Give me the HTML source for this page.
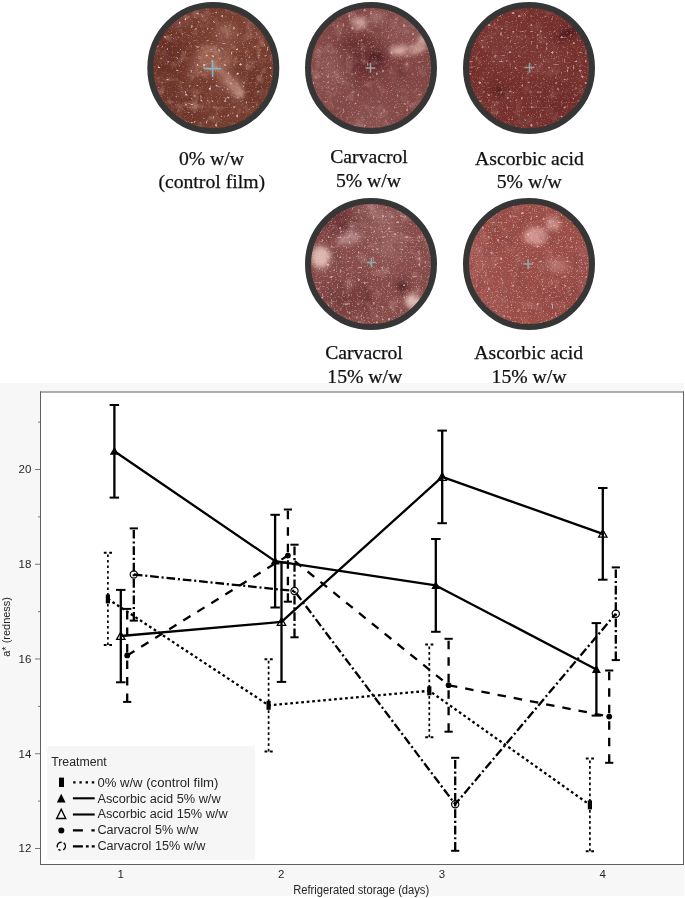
<!DOCTYPE html>
<html><head><meta charset="utf-8"><style>
html,body{margin:0;padding:0;background:#fff;}
body{width:685px;height:898px;overflow:hidden;position:relative;}
svg{position:absolute;left:0;top:0;display:block;will-change:transform;}
.serif{font-family:"Liberation Serif",serif;}
.sans{font-family:"Liberation Sans",sans-serif;}
</style></head><body>
<svg width="685" height="898" viewBox="0 0 685 898">
<rect x="0" y="0" width="685" height="898" fill="#fff"/>
<defs>
<clipPath id="c1"><circle cx="213.3" cy="68" r="62"/></clipPath>
<clipPath id="c2"><circle cx="371" cy="68" r="62"/></clipPath>
<clipPath id="c3"><circle cx="529" cy="68" r="62"/></clipPath>
<clipPath id="c4"><circle cx="371" cy="264" r="62"/></clipPath>
<clipPath id="c5"><circle cx="529" cy="264" r="62"/></clipPath>
<filter id="b4" x="-50%" y="-50%" width="200%" height="200%"><feGaussianBlur stdDeviation="3.5"/></filter>
<filter id="b15" x="-50%" y="-50%" width="200%" height="200%"><feGaussianBlur stdDeviation="2.6"/></filter>
<filter id="b12" x="-50%" y="-50%" width="200%" height="200%"><feGaussianBlur stdDeviation="10"/></filter>
<filter id="mottle" x="0" y="0" width="100%" height="100%">
 <feTurbulence type="fractalNoise" baseFrequency="0.07" numOctaves="3" seed="3"/>
 <feColorMatrix type="matrix" values="0 0 0 0 0.25  0 0 0 0 0.08  0 0 0 0 0.07  3 0 0 0 -1.5"/>
</filter>
<filter id="mottleL" x="0" y="0" width="100%" height="100%">
 <feTurbulence type="fractalNoise" baseFrequency="0.09" numOctaves="3" seed="31"/>
 <feColorMatrix type="matrix" values="0 0 0 0 0.76  0 0 0 0 0.56  0 0 0 0 0.5  3 0 0 0 -1.6"/>
</filter>
<filter id="grain" x="0" y="0" width="100%" height="100%">
 <feTurbulence type="fractalNoise" baseFrequency="0.8" numOctaves="1" seed="5"/>
 <feColorMatrix type="matrix" values="0 0 0 0 0.85  0 0 0 0 0.68  0 0 0 0 0.7  5 0 0 0 -2.9"/>
 <feGaussianBlur stdDeviation="0.35"/>
</filter>
<filter id="sp1" x="0" y="0" width="100%" height="100%">
 <feTurbulence type="fractalNoise" baseFrequency="0.33" numOctaves="1" seed="7"/>
 <feColorMatrix type="matrix" values="0 0 0 0 0.92  0 0 0 0 0.84  0 0 0 0 0.86  9 0 0 0 -5.9"/>
 <feGaussianBlur stdDeviation="0.5"/>
</filter>
<filter id="sp2" x="0" y="0" width="100%" height="100%">
 <feTurbulence type="fractalNoise" baseFrequency="0.33" numOctaves="1" seed="9"/>
 <feColorMatrix type="matrix" values="0 0 0 0 0.92  0 0 0 0 0.84  0 0 0 0 0.86  9 0 0 0 -5.9"/>
 <feGaussianBlur stdDeviation="0.5"/>
</filter>
<filter id="sp3" x="0" y="0" width="100%" height="100%">
 <feTurbulence type="fractalNoise" baseFrequency="0.33" numOctaves="1" seed="13"/>
 <feColorMatrix type="matrix" values="0 0 0 0 0.92  0 0 0 0 0.84  0 0 0 0 0.86  9 0 0 0 -5.9"/>
 <feGaussianBlur stdDeviation="0.5"/>
</filter>
<filter id="sp4" x="0" y="0" width="100%" height="100%">
 <feTurbulence type="fractalNoise" baseFrequency="0.33" numOctaves="1" seed="17"/>
 <feColorMatrix type="matrix" values="0 0 0 0 0.92  0 0 0 0 0.84  0 0 0 0 0.86  9 0 0 0 -5.9"/>
 <feGaussianBlur stdDeviation="0.5"/>
</filter>
<filter id="sp5" x="0" y="0" width="100%" height="100%">
 <feTurbulence type="fractalNoise" baseFrequency="0.33" numOctaves="1" seed="19"/>
 <feColorMatrix type="matrix" values="0 0 0 0 0.92  0 0 0 0 0.84  0 0 0 0 0.86  9 0 0 0 -5.9"/>
 <feGaussianBlur stdDeviation="0.5"/>
</filter>
<filter id="gain1" x="0" y="0" width="100%" height="100%" color-interpolation-filters="sRGB"><feColorMatrix type="saturate" values="0.9"/><feColorMatrix type="matrix" values="1.0 0 0 0 0  0 0.92 0 0 0  0 0 0.9 0 0  0 0 0 1 0"/></filter>
<filter id="gain2" x="0" y="0" width="100%" height="100%" color-interpolation-filters="sRGB"><feColorMatrix type="saturate" values="0.8"/><feColorMatrix type="matrix" values="1.0 0 0 0 0  0 0.9 0 0 0  0 0 0.9 0 0  0 0 0 1 0"/></filter>
<filter id="gain3" x="0" y="0" width="100%" height="100%" color-interpolation-filters="sRGB"><feColorMatrix type="saturate" values="0.92"/><feColorMatrix type="matrix" values="0.92 0 0 0 0  0 0.8 0 0 0  0 0 0.8 0 0  0 0 0 1 0"/></filter>
<filter id="gain4" x="0" y="0" width="100%" height="100%" color-interpolation-filters="sRGB"><feColorMatrix type="saturate" values="0.8"/><feColorMatrix type="matrix" values="1.0 0 0 0 0  0 0.9 0 0 0  0 0 0.92 0 0  0 0 0 1 0"/></filter>
<filter id="gain5" x="0" y="0" width="100%" height="100%" color-interpolation-filters="sRGB"><feColorMatrix type="saturate" values="0.85"/><feColorMatrix type="matrix" values="1.0 0 0 0 0  0 0.84 0 0 0  0 0 0.88 0 0  0 0 0 1 0"/></filter>
</defs>
<g clip-path="url(#c1)">
<g filter="url(#gain1)">
<rect x="147.3" y="2.0" width="132" height="132" fill="#7b4131"/>
<g filter="url(#b12)"><ellipse cx="168" cy="55" rx="18" ry="30" fill="#6c3326"/><ellipse cx="178" cy="108" rx="26" ry="18" fill="#6e3528"/><ellipse cx="258" cy="85" rx="14" ry="22" fill="#6e3729"/><ellipse cx="228" cy="36" rx="16" ry="12" fill="#8a5040"/></g>
<g filter="url(#b4)"><ellipse cx="213" cy="60" rx="19" ry="15" fill="#a06a57" transform="rotate(0 213 60)"/><ellipse cx="231" cy="84" rx="14" ry="7" fill="#b08172" transform="rotate(40 231 84)"/><ellipse cx="226" cy="32" rx="10" ry="8" fill="#94604f" transform="rotate(0 226 32)"/><ellipse cx="195" cy="70" rx="8" ry="6" fill="#8c5646" transform="rotate(0 195 70)"/></g>
<g filter="url(#b15)"><ellipse cx="236" cy="90" rx="8" ry="4" fill="#b08476" transform="rotate(40 236 90)"/></g>
<rect x="147.3" y="2.0" width="132" height="132" filter="url(#mottle)" opacity="0.7"/>
<rect x="147.3" y="2.0" width="132" height="132" filter="url(#mottleL)" opacity="0.4"/>
</g>
<rect x="147.3" y="2.0" width="132" height="132" filter="url(#grain)" opacity="0.3"/>
<rect x="147.3" y="2.0" width="132" height="132" filter="url(#sp1)" opacity="0.8"/>
<g stroke="#84b4c8" stroke-width="1.6"><line x1="204.1" y1="68.6" x2="221.1" y2="68.6"/><line x1="212.6" y1="60.1" x2="212.6" y2="77.1"/></g>
</g>
<g clip-path="url(#c2)">
<g filter="url(#gain2)">
<rect x="305.0" y="2.0" width="132" height="132" fill="#8c4c48"/>
<g filter="url(#b12)"><ellipse cx="362" cy="60" rx="22" ry="20" fill="#6e2c2e"/><ellipse cx="330" cy="72" rx="14" ry="22" fill="#9c6660"/><ellipse cx="405" cy="30" rx="16" ry="12" fill="#a06a68"/><ellipse cx="372" cy="118" rx="22" ry="10" fill="#9a625e"/></g>
<g filter="url(#b4)"><ellipse cx="376" cy="57" rx="7" ry="10" fill="#5a2026" transform="rotate(0 376 57)"/><ellipse cx="377" cy="18" rx="9" ry="5" fill="#b08480" transform="rotate(0 377 18)"/><ellipse cx="355" cy="43" rx="18" ry="2.5" fill="#6a2a2c" transform="rotate(-5 355 43)"/><ellipse cx="401" cy="72" rx="3" ry="7" fill="#6a2a2e" transform="rotate(-20 401 72)"/></g>
<g filter="url(#b15)"><ellipse cx="359" cy="23" rx="8" ry="6" fill="#d0aca8" transform="rotate(0 359 23)"/><ellipse cx="407" cy="50" rx="17" ry="5" fill="#dab8aa" transform="rotate(-5 407 50)"/><ellipse cx="422" cy="42" rx="4" ry="8" fill="#dabcb0" transform="rotate(0 422 42)"/></g>
<rect x="305.0" y="2.0" width="132" height="132" filter="url(#mottle)" opacity="0.5"/>
<rect x="305.0" y="2.0" width="132" height="132" filter="url(#mottleL)" opacity="0.3"/>
</g>
<rect x="305.0" y="2.0" width="132" height="132" filter="url(#grain)" opacity="0.35"/>
<rect x="305.0" y="2.0" width="132" height="132" filter="url(#sp2)" opacity="0.45"/>
<g stroke="#98a4a4" stroke-width="1.5"><line x1="365.6" y1="67.9" x2="375.4" y2="67.9"/><line x1="370.5" y1="63.0" x2="370.5" y2="72.8"/></g>
</g>
<g clip-path="url(#c3)">
<g filter="url(#gain3)">
<rect x="463.0" y="2.0" width="132" height="132" fill="#853a35"/>
<g filter="url(#b12)"><ellipse cx="500" cy="40" rx="26" ry="24" fill="#8a423c"/><ellipse cx="560" cy="100" rx="24" ry="20" fill="#7e3632"/><ellipse cx="548" cy="60" rx="14" ry="12" fill="#94504a"/></g>
<g filter="url(#b4)"><ellipse cx="567" cy="33" rx="12" ry="3.5" fill="#4c181c" transform="rotate(-30 567 33)"/><ellipse cx="501" cy="91" rx="8" ry="3" fill="#501a1e" transform="rotate(25 501 91)"/></g>
<rect x="463.0" y="2.0" width="132" height="132" filter="url(#mottle)" opacity="0.45"/>
<rect x="463.0" y="2.0" width="132" height="132" filter="url(#mottleL)" opacity="0.2"/>
</g>
<rect x="463.0" y="2.0" width="132" height="132" filter="url(#grain)" opacity="0.35"/>
<rect x="463.0" y="2.0" width="132" height="132" filter="url(#sp3)" opacity="0.55"/>
<g stroke="#98a4a4" stroke-width="1.5"><line x1="524.6" y1="67.6" x2="534.4" y2="67.6"/><line x1="529.5" y1="62.7" x2="529.5" y2="72.5"/></g>
</g>
<g clip-path="url(#c4)">
<g filter="url(#gain4)">
<rect x="305.0" y="198.0" width="132" height="132" fill="#92524c"/>
<g filter="url(#b12)"><ellipse cx="342" cy="222" rx="16" ry="11" fill="#62242a"/><ellipse cx="344" cy="298" rx="22" ry="16" fill="#7a3a38"/><ellipse cx="378" cy="214" rx="16" ry="9" fill="#b48a86"/><ellipse cx="388" cy="246" rx="10" ry="9" fill="#bc9896"/></g>
<g filter="url(#b4)"><ellipse cx="350" cy="238" rx="14" ry="5" fill="#c8a8a4" transform="rotate(-15 350 238)"/><ellipse cx="402" cy="286" rx="5" ry="6" fill="#521a20" transform="rotate(0 402 286)"/><ellipse cx="366" cy="298" rx="3" ry="16" fill="#642628" transform="rotate(-10 366 298)"/></g>
<g filter="url(#b15)"><ellipse cx="321" cy="257" rx="10" ry="11" fill="#e0c8b8" transform="rotate(0 321 257)"/><ellipse cx="413" cy="301" rx="8" ry="7" fill="#e2cebe" transform="rotate(0 413 301)"/></g>
<rect x="305.0" y="198.0" width="132" height="132" filter="url(#mottle)" opacity="0.6"/>
<rect x="305.0" y="198.0" width="132" height="132" filter="url(#mottleL)" opacity="0.3"/>
</g>
<rect x="305.0" y="198.0" width="132" height="132" filter="url(#grain)" opacity="0.5"/>
<rect x="305.0" y="198.0" width="132" height="132" filter="url(#sp4)" opacity="0.55"/>
<g stroke="#8cacaa" stroke-width="1.5"><line x1="366.6" y1="262.6" x2="376.2" y2="262.6"/><line x1="371.4" y1="257.8" x2="371.4" y2="267.4"/></g>
</g>
<g clip-path="url(#c5)">
<g filter="url(#gain5)">
<rect x="463.0" y="198.0" width="132" height="132" fill="#a45a4c"/>
<g filter="url(#b12)"><ellipse cx="478" cy="258" rx="12" ry="18" fill="#b07064"/><ellipse cx="490" cy="305" rx="18" ry="10" fill="#ac6a5e"/><ellipse cx="560" cy="300" rx="18" ry="14" fill="#9a5046"/></g>
<g filter="url(#b4)"><ellipse cx="556" cy="266" rx="12" ry="6" fill="#c08a7c" transform="rotate(0 556 266)"/><ellipse cx="500" cy="238" rx="14" ry="10" fill="#9e544a" transform="rotate(0 500 238)"/></g>
<g filter="url(#b15)"><ellipse cx="536" cy="236" rx="12" ry="9" fill="#d6ae9c" transform="rotate(0 536 236)"/><ellipse cx="553" cy="224" rx="7" ry="7" fill="#d2aa98" transform="rotate(0 553 224)"/></g>
<rect x="463.0" y="198.0" width="132" height="132" filter="url(#mottle)" opacity="0.45"/>
<rect x="463.0" y="198.0" width="132" height="132" filter="url(#mottleL)" opacity="0.25"/>
</g>
<rect x="463.0" y="198.0" width="132" height="132" filter="url(#grain)" opacity="0.55"/>
<rect x="463.0" y="198.0" width="132" height="132" filter="url(#sp5)" opacity="0.5"/>
<g stroke="#98aaa6" stroke-width="1.5"><line x1="523.2" y1="264.1" x2="533.0" y2="264.1"/><line x1="528.1" y1="259.2" x2="528.1" y2="269.0"/></g>
</g>
<g fill="none" stroke="#363636" stroke-width="6"><circle cx="213.3" cy="68" r="63"/><circle cx="371" cy="68" r="63"/><circle cx="529" cy="68" r="63"/><circle cx="371" cy="264" r="63"/><circle cx="529" cy="264" r="63"/></g>
<g class="serif" font-size="19.7" fill="#111" stroke="#111" stroke-width="0.25" text-anchor="middle"><text x="211.5" y="165.1">0% w/w</text><text x="211.7" y="188.2">(control film)</text><text x="369" y="162.7">Carvacrol</text><text x="368.5" y="186.8">5% w/w</text><text x="529.5" y="165.1">Ascorbic acid</text><text x="529.3" y="188.2">5% w/w</text><text x="364" y="358.8">Carvacrol</text><text x="364.8" y="383.1">15% w/w</text><text x="528.7" y="359.1">Ascorbic acid</text><text x="529" y="383.0">15% w/w</text></g>
<rect x="0" y="383" width="684" height="513" fill="#f7f7f7"/>
<rect x="40" y="392" width="644" height="473" fill="#fff"/>
<g stroke="#606060" stroke-width="1"><line x1="40" y1="392" x2="684" y2="392"/><line x1="40.5" y1="391.5" x2="40.5" y2="865"/><line x1="683.5" y1="391.5" x2="683.5" y2="865"/><line x1="40" y1="864.5" x2="684" y2="864.5"/></g>
<rect x="47.3" y="746" width="207.5" height="113.7" fill="#f6f6f6"/>
<g stroke="#777" stroke-width="1"><line x1="35" y1="469.5" x2="40" y2="469.5"/><line x1="35" y1="564.25" x2="40" y2="564.25"/><line x1="35" y1="659" x2="40" y2="659"/><line x1="35" y1="753.75" x2="40" y2="753.75"/><line x1="35" y1="848.5" x2="40" y2="848.5"/><line x1="38" y1="422.1" x2="40" y2="422.1"/><line x1="38" y1="516.9" x2="40" y2="516.9"/><line x1="38" y1="611.6" x2="40" y2="611.6"/><line x1="38" y1="706.4" x2="40" y2="706.4"/><line x1="38" y1="801.1" x2="40" y2="801.1"/></g>
<g class="sans" font-size="11.5" fill="#262626" text-anchor="end"><text x="31.4" y="473.4">20</text><text x="31.4" y="568.1">18</text><text x="31.4" y="662.9">16</text><text x="31.4" y="757.6">14</text><text x="31.4" y="852.4">12</text></g>
<g class="sans" font-size="11.5" fill="#262626" text-anchor="middle"><text x="120.6" y="878.1">1</text><text x="281.3" y="878.1">2</text><text x="442.0" y="878.1">3</text><text x="602.6" y="878.1">4</text></g>
<text class="sans" font-size="12" fill="#262626" x="293.2" y="894.2" textLength="136" lengthAdjust="spacingAndGlyphs">Refrigerated storage (days)</text>
<text class="sans" fill="#262626" font-size="11" transform="translate(10.3,656.8) rotate(-90)" textLength="59.8" lengthAdjust="spacingAndGlyphs">a* (redness)</text>
<g class="sans" font-size="12.3" fill="#262626">
<text x="51.2" y="766.1" textLength="55.6" lengthAdjust="spacingAndGlyphs">Treatment</text>
<text x="97.4" y="787.1" textLength="121" lengthAdjust="spacingAndGlyphs">0% w/w (control film)</text>
<text x="97.4" y="802.6" textLength="123.2" lengthAdjust="spacingAndGlyphs">Ascorbic acid 5% w/w</text>
<text x="97.4" y="818.3" textLength="130.2" lengthAdjust="spacingAndGlyphs">Ascorbic acid 15% w/w</text>
<text x="97.4" y="834.2" textLength="101" lengthAdjust="spacingAndGlyphs">Carvacrol 5% w/w</text>
<text x="97.4" y="850" textLength="108" lengthAdjust="spacingAndGlyphs">Carvacrol 15% w/w</text>
</g>
<g stroke="#000" stroke-width="2.1">
<rect x="59" y="777.6" width="5" height="9.4" fill="#000" stroke="none"/>
<line x1="73.2" y1="782.4" x2="94.7" y2="782.4" stroke-dasharray="2.4 3.8"/>
<path d="M61.2,793.7 L65.6,802.6 L56.8,802.6Z" fill="#000" stroke="none"/>
<line x1="72.9" y1="798.3" x2="94.7" y2="798.3"/>
<path d="M61.2,809.3 L65.7,818.5 L56.7,818.5Z" fill="none" stroke-width="1.4" stroke-linejoin="miter"/>
<line x1="72.9" y1="814.5" x2="94.7" y2="814.5"/>
<circle cx="61.3" cy="830.5" r="3" fill="#000" stroke="none"/>
<line x1="72.9" y1="830.4" x2="94.7" y2="830.4" stroke-dasharray="10 8.5"/>
<circle cx="61.3" cy="846.3" r="4.1" fill="none" stroke-width="1.4" stroke-dasharray="8.2 2.6 2.3 2.3 7.6 2.1" transform="rotate(-55 61.3 846.3)"/>
<line x1="72.9" y1="846.4" x2="94.7" y2="846.4" stroke-dasharray="10 3 2.8 3"/>
</g>
<g id="data"><polyline points="107.9,598.9 268.6,705.3 429.3,690.8 589.9,804.9" fill="none" stroke="#000" stroke-width="2.3" stroke-linejoin="round" stroke-dasharray="2.7 2.8"/>
<line x1="107.9" y1="645.1" x2="107.9" y2="552.7" stroke="#000" stroke-width="1.7" stroke-dasharray="2.7 2.8"/>
<line x1="103.8" y1="552.7" x2="112.0" y2="552.7" stroke="#000" stroke-width="2.0" stroke-dasharray="2.8 2.6 2.8"/>
<line x1="103.8" y1="645.1" x2="112.0" y2="645.1" stroke="#000" stroke-width="2.0" stroke-dasharray="2.8 2.6 2.8"/>
<line x1="268.6" y1="751.5" x2="268.6" y2="659.2" stroke="#000" stroke-width="1.7" stroke-dasharray="2.7 2.8"/>
<line x1="264.5" y1="659.2" x2="272.7" y2="659.2" stroke="#000" stroke-width="2.0" stroke-dasharray="2.8 2.6 2.8"/>
<line x1="264.5" y1="751.5" x2="272.7" y2="751.5" stroke="#000" stroke-width="2.0" stroke-dasharray="2.8 2.6 2.8"/>
<line x1="429.3" y1="737.2" x2="429.3" y2="644.5" stroke="#000" stroke-width="1.7" stroke-dasharray="2.7 2.8"/>
<line x1="425.2" y1="644.5" x2="433.4" y2="644.5" stroke="#000" stroke-width="2.0" stroke-dasharray="2.8 2.6 2.8"/>
<line x1="425.2" y1="737.2" x2="433.4" y2="737.2" stroke="#000" stroke-width="2.0" stroke-dasharray="2.8 2.6 2.8"/>
<line x1="589.9" y1="851.2" x2="589.9" y2="758.6" stroke="#000" stroke-width="1.7" stroke-dasharray="2.7 2.8"/>
<line x1="585.8" y1="758.6" x2="594.0" y2="758.6" stroke="#000" stroke-width="2.0" stroke-dasharray="2.8 2.6 2.8"/>
<line x1="585.8" y1="851.2" x2="594.0" y2="851.2" stroke="#000" stroke-width="2.0" stroke-dasharray="2.8 2.6 2.8"/>
<rect x="105.8" y="594.4" width="4.2" height="9" fill="#000"/>
<rect x="266.5" y="700.8" width="4.2" height="9" fill="#000"/>
<rect x="427.2" y="686.3" width="4.2" height="9" fill="#000"/>
<rect x="587.8" y="800.4" width="4.2" height="9" fill="#000"/>
<polyline points="127.2,655.4 287.9,555.6 448.6,685.2 609.2,716.6" fill="none" stroke="#000" stroke-width="2.3" stroke-linejoin="round" stroke-dasharray="8.5 8"/>
<line x1="127.2" y1="701.9" x2="127.2" y2="608.9" stroke="#000" stroke-width="2.3" stroke-dasharray="8.5 8"/>
<line x1="123.1" y1="608.9" x2="131.3" y2="608.9" stroke="#000" stroke-width="2.0"/>
<line x1="123.1" y1="701.9" x2="131.3" y2="701.9" stroke="#000" stroke-width="2.0"/>
<line x1="287.9" y1="601.7" x2="287.9" y2="509.5" stroke="#000" stroke-width="2.3" stroke-dasharray="8.5 8"/>
<line x1="283.8" y1="509.5" x2="292.0" y2="509.5" stroke="#000" stroke-width="2.0"/>
<line x1="283.8" y1="601.7" x2="292.0" y2="601.7" stroke="#000" stroke-width="2.0"/>
<line x1="448.6" y1="731.7" x2="448.6" y2="638.8" stroke="#000" stroke-width="2.3" stroke-dasharray="8.5 8"/>
<line x1="444.5" y1="638.8" x2="452.7" y2="638.8" stroke="#000" stroke-width="2.0"/>
<line x1="444.5" y1="731.7" x2="452.7" y2="731.7" stroke="#000" stroke-width="2.0"/>
<line x1="609.2" y1="762.8" x2="609.2" y2="670.5" stroke="#000" stroke-width="2.3" stroke-dasharray="8.5 8"/>
<line x1="605.1" y1="670.5" x2="613.3" y2="670.5" stroke="#000" stroke-width="2.0"/>
<line x1="605.1" y1="762.8" x2="613.3" y2="762.8" stroke="#000" stroke-width="2.0"/>
<circle cx="127.2" cy="655.4" r="2.9" fill="#000"/>
<circle cx="287.9" cy="555.6" r="2.9" fill="#000"/>
<circle cx="448.6" cy="685.2" r="2.9" fill="#000"/>
<circle cx="609.2" cy="716.6" r="2.9" fill="#000"/>
<polyline points="133.8,574.5 294.5,591.0 455.2,804.3 615.8,613.7" fill="none" stroke="#000" stroke-width="2.3" stroke-linejoin="round" stroke-dasharray="8.7 2.8 2.1 2.8"/>
<line x1="133.8" y1="620.6" x2="133.8" y2="528.4" stroke="#000" stroke-width="2.3" stroke-dasharray="8.7 2.8 2.1 2.8"/>
<line x1="129.7" y1="528.4" x2="137.9" y2="528.4" stroke="#000" stroke-width="2.0"/>
<line x1="129.7" y1="620.6" x2="137.9" y2="620.6" stroke="#000" stroke-width="2.0"/>
<line x1="294.5" y1="637.3" x2="294.5" y2="544.7" stroke="#000" stroke-width="2.3" stroke-dasharray="8.7 2.8 2.1 2.8"/>
<line x1="290.4" y1="544.7" x2="298.6" y2="544.7" stroke="#000" stroke-width="2.0"/>
<line x1="290.4" y1="637.3" x2="298.6" y2="637.3" stroke="#000" stroke-width="2.0"/>
<line x1="455.2" y1="850.8" x2="455.2" y2="757.8" stroke="#000" stroke-width="2.3" stroke-dasharray="8.7 2.8 2.1 2.8"/>
<line x1="451.1" y1="757.8" x2="459.3" y2="757.8" stroke="#000" stroke-width="2.0"/>
<line x1="451.1" y1="850.8" x2="459.3" y2="850.8" stroke="#000" stroke-width="2.0"/>
<line x1="615.8" y1="660.1" x2="615.8" y2="567.4" stroke="#000" stroke-width="2.3" stroke-dasharray="8.7 2.8 2.1 2.8"/>
<line x1="611.7" y1="567.4" x2="619.9" y2="567.4" stroke="#000" stroke-width="2.0"/>
<line x1="611.7" y1="660.1" x2="619.9" y2="660.1" stroke="#000" stroke-width="2.0"/>
<circle cx="133.8" cy="574.5" r="3.6" fill="none" stroke="#000" stroke-width="1.2"/>
<circle cx="294.5" cy="591.0" r="3.6" fill="none" stroke="#000" stroke-width="1.2"/>
<circle cx="455.2" cy="804.3" r="3.6" fill="none" stroke="#000" stroke-width="1.2"/>
<circle cx="615.8" cy="613.7" r="3.6" fill="none" stroke="#000" stroke-width="1.2"/>
<polyline points="120.8,636.0 281.5,621.9 442.2,476.9 602.8,533.8" fill="none" stroke="#000" stroke-width="2.3" stroke-linejoin="round"/>
<line x1="120.8" y1="682.3" x2="120.8" y2="589.9" stroke="#000" stroke-width="2.3"/>
<line x1="116.0" y1="589.9" x2="125.5" y2="589.9" stroke="#000" stroke-width="2.0"/>
<line x1="116.0" y1="682.3" x2="125.5" y2="682.3" stroke="#000" stroke-width="2.0"/>
<line x1="281.5" y1="681.9" x2="281.5" y2="562.5" stroke="#000" stroke-width="2.3"/>
<line x1="276.8" y1="562.5" x2="286.2" y2="562.5" stroke="#000" stroke-width="2.0"/>
<line x1="276.8" y1="681.9" x2="286.2" y2="681.9" stroke="#000" stroke-width="2.0"/>
<line x1="442.2" y1="523.2" x2="442.2" y2="430.6" stroke="#000" stroke-width="2.3"/>
<line x1="437.4" y1="430.6" x2="446.9" y2="430.6" stroke="#000" stroke-width="2.0"/>
<line x1="437.4" y1="523.2" x2="446.9" y2="523.2" stroke="#000" stroke-width="2.0"/>
<line x1="602.8" y1="579.7" x2="602.8" y2="488.0" stroke="#000" stroke-width="2.3"/>
<line x1="598.0" y1="488.0" x2="607.5" y2="488.0" stroke="#000" stroke-width="2.0"/>
<line x1="598.0" y1="579.7" x2="607.5" y2="579.7" stroke="#000" stroke-width="2.0"/>
<path d="M120.8,632.0 L125.0,639.4 L116.6,639.4Z" fill="none" stroke="#000" stroke-width="1.3"/>
<path d="M281.5,617.9 L285.7,625.3 L277.3,625.3Z" fill="none" stroke="#000" stroke-width="1.3"/>
<path d="M442.2,472.9 L446.4,480.3 L438.0,480.3Z" fill="none" stroke="#000" stroke-width="1.3"/>
<path d="M602.8,529.8 L607.0,537.2 L598.6,537.2Z" fill="none" stroke="#000" stroke-width="1.3"/>
<polyline points="114.4,451.3 275.1,561.1 435.8,585.4 596.4,669.4" fill="none" stroke="#000" stroke-width="2.3" stroke-linejoin="round"/>
<line x1="114.4" y1="497.6" x2="114.4" y2="405.0" stroke="#000" stroke-width="2.3"/>
<line x1="109.6" y1="405.0" x2="119.1" y2="405.0" stroke="#000" stroke-width="2.0"/>
<line x1="109.6" y1="497.6" x2="119.1" y2="497.6" stroke="#000" stroke-width="2.0"/>
<line x1="275.1" y1="607.5" x2="275.1" y2="514.8" stroke="#000" stroke-width="2.3"/>
<line x1="270.4" y1="514.8" x2="279.9" y2="514.8" stroke="#000" stroke-width="2.0"/>
<line x1="270.4" y1="607.5" x2="279.9" y2="607.5" stroke="#000" stroke-width="2.0"/>
<line x1="435.8" y1="631.8" x2="435.8" y2="539.0" stroke="#000" stroke-width="2.3"/>
<line x1="431.1" y1="539.0" x2="440.6" y2="539.0" stroke="#000" stroke-width="2.0"/>
<line x1="431.1" y1="631.8" x2="440.6" y2="631.8" stroke="#000" stroke-width="2.0"/>
<line x1="596.4" y1="715.6" x2="596.4" y2="623.1" stroke="#000" stroke-width="2.3"/>
<line x1="591.6" y1="623.1" x2="601.1" y2="623.1" stroke="#000" stroke-width="2.0"/>
<line x1="591.6" y1="715.6" x2="601.1" y2="715.6" stroke="#000" stroke-width="2.0"/>
<path d="M114.4,446.8 L118.9,454.8 L109.9,454.8Z" fill="#000"/>
<path d="M275.1,556.6 L279.6,564.6 L270.6,564.6Z" fill="#000"/>
<path d="M435.8,580.9 L440.3,588.9 L431.3,588.9Z" fill="#000"/>
<path d="M596.4,664.9 L600.9,672.9 L591.9,672.9Z" fill="#000"/></g>
</svg>
</body></html>
